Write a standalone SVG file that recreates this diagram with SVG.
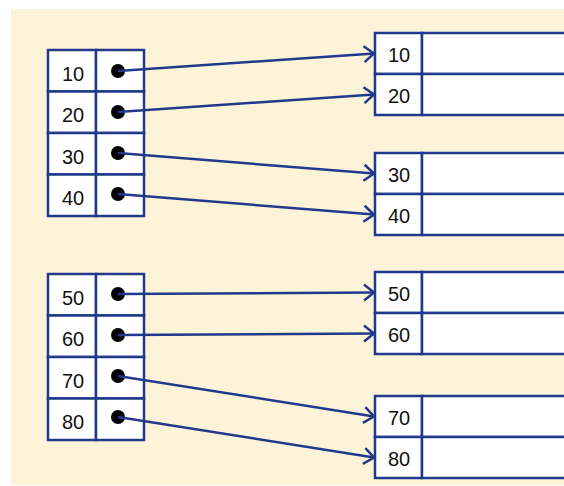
<svg xmlns="http://www.w3.org/2000/svg" width="564" height="486" viewBox="0 0 564 486">
<style>
.cell{fill:#ffffff;stroke:#21398c;stroke-width:2.5}
.t{font-family:"Liberation Sans",Arial,sans-serif;font-size:20px;fill:#111;text-anchor:middle}
.dot{fill:#000}
.c{fill:none;stroke:#21398c;stroke-width:2.5}
</style>
<defs>
<marker id="ah" markerUnits="userSpaceOnUse" markerWidth="14" markerHeight="20" refX="12" refY="10" orient="auto" viewBox="0 0 14 20">
<path d="M2 2 L12 10 L2 18" fill="none" stroke="#21398c" stroke-width="2.5"/>
</marker>
</defs>
<rect x="11" y="9" width="560" height="476" fill="#fdf3d8"/>
<g id="index1">
<rect class="cell" x="48" y="50" width="48" height="41.5"/><rect class="cell" x="96" y="50" width="48" height="41.5"/>
<rect class="cell" x="48" y="91.5" width="48" height="41.5"/><rect class="cell" x="96" y="91.5" width="48" height="41.5"/>
<rect class="cell" x="48" y="133" width="48" height="41.5"/><rect class="cell" x="96" y="133" width="48" height="41.5"/>
<rect class="cell" x="48" y="174.5" width="48" height="41.5"/><rect class="cell" x="96" y="174.5" width="48" height="41.5"/>
<text class="t" x="73" y="80.5">10</text><text class="t" x="73" y="122">20</text><text class="t" x="73" y="163.5">30</text><text class="t" x="73" y="205">40</text>
<circle class="dot" cx="118" cy="71" r="7"/><circle class="dot" cx="118" cy="112" r="7"/><circle class="dot" cx="118" cy="153" r="7"/><circle class="dot" cx="118" cy="194" r="7"/>
</g>
<g id="index2">
<rect class="cell" x="48" y="274" width="48" height="41.5"/><rect class="cell" x="96" y="274" width="48" height="41.5"/>
<rect class="cell" x="48" y="315.5" width="48" height="41.5"/><rect class="cell" x="96" y="315.5" width="48" height="41.5"/>
<rect class="cell" x="48" y="357" width="48" height="41.5"/><rect class="cell" x="96" y="357" width="48" height="41.5"/>
<rect class="cell" x="48" y="398.5" width="48" height="41.5"/><rect class="cell" x="96" y="398.5" width="48" height="41.5"/>
<text class="t" x="73" y="304.5">50</text><text class="t" x="73" y="346">60</text><text class="t" x="73" y="387.5">70</text><text class="t" x="73" y="429">80</text>
<circle class="dot" cx="118" cy="294" r="7"/><circle class="dot" cx="118" cy="335" r="7"/><circle class="dot" cx="118" cy="376" r="7"/><circle class="dot" cx="118" cy="417" r="7"/>
</g>
<g id="blockA">
<rect class="cell" x="375" y="33" width="47" height="41"/><rect class="cell" x="422" y="33" width="160" height="41"/>
<rect class="cell" x="375" y="74" width="47" height="41"/><rect class="cell" x="422" y="74" width="160" height="41"/>
<text class="t" x="399" y="62">10</text><text class="t" x="399" y="103">20</text>
</g>
<g id="blockB">
<rect class="cell" x="375" y="153" width="47" height="41"/><rect class="cell" x="422" y="153" width="160" height="41"/>
<rect class="cell" x="375" y="194" width="47" height="41"/><rect class="cell" x="422" y="194" width="160" height="41"/>
<text class="t" x="399" y="182">30</text><text class="t" x="399" y="223">40</text>
</g>
<g id="blockC">
<rect class="cell" x="375" y="272" width="47" height="41"/><rect class="cell" x="422" y="272" width="160" height="41"/>
<rect class="cell" x="375" y="313" width="47" height="41"/><rect class="cell" x="422" y="313" width="160" height="41"/>
<text class="t" x="399" y="301">50</text><text class="t" x="399" y="342">60</text>
</g>
<g id="blockD">
<rect class="cell" x="375" y="396" width="47" height="41"/><rect class="cell" x="422" y="396" width="160" height="41"/>
<rect class="cell" x="375" y="437" width="47" height="41"/><rect class="cell" x="422" y="437" width="160" height="41"/>
<text class="t" x="399" y="425">70</text><text class="t" x="399" y="466">80</text>
</g>
<g id="connectors">
<line class="c" x1="118" y1="71" x2="374" y2="53.5" marker-end="url(#ah)"/>
<line class="c" x1="118" y1="112" x2="374" y2="94.5" marker-end="url(#ah)"/>
<line class="c" x1="118" y1="153" x2="374" y2="173.5" marker-end="url(#ah)"/>
<line class="c" x1="118" y1="194" x2="374" y2="214.5" marker-end="url(#ah)"/>
<line class="c" x1="118" y1="294" x2="374" y2="292.5" marker-end="url(#ah)"/>
<line class="c" x1="118" y1="335" x2="374" y2="333.5" marker-end="url(#ah)"/>
<line class="c" x1="118" y1="376" x2="374" y2="416.5" marker-end="url(#ah)"/>
<line class="c" x1="118" y1="417" x2="374" y2="457.5" marker-end="url(#ah)"/>
</g>
</svg>
